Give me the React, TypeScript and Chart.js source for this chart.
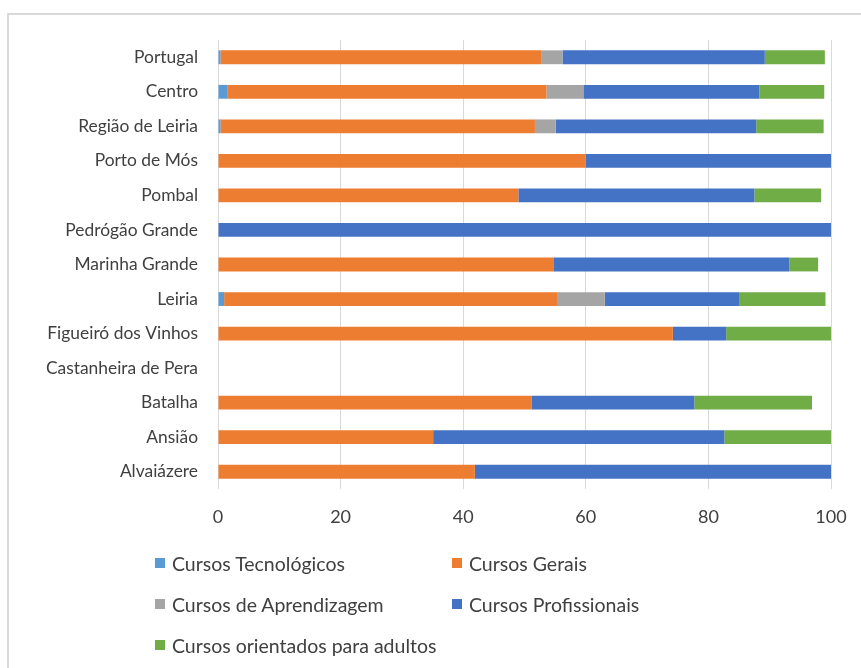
import React, { useEffect, useRef } from "react";
import { Chart, registerables } from "chart.js";

Chart.register(...registerables);

const categories = [
  "Portugal",
  "Centro",
  "Região de Leiria",
  "Porto de Mós",
  "Pombal",
  "Pedrógão Grande",
  "Marinha Grande",
  "Leiria",
  "Figueiró dos Vinhos",
  "Castanheira de Pera",
  "Batalha",
  "Ansião",
  "Alvaiázere",
];

const tecnologicos = [0.4, 1.5, 0.4, 0, 0, 0, 0, 1.0, 0, null, 0, 0, 0];
const gerais = [52.3, 52.1, 51.3, 60.0, 49.0, 0, 54.7, 54.3, 74.2, null, 51.2, 35.1, 41.9];
const aprendizagem = [3.5, 6.0, 3.4, 0, 0, 0, 0, 7.8, 0, null, 0, 0, 0];
const profissionais = [33.0, 28.7, 32.7, 40.0, 38.5, 100, 38.5, 21.9, 8.7, null, 26.5, 47.5, 58.1];
const adultos = [9.8, 10.6, 11.0, 0, 10.9, 0, 4.7, 14.1, 17.1, null, 19.2, 17.4, 0];

const seriesNames = [
  "Cursos Tecnológicos",
  "Cursos Gerais",
  "Cursos de Aprendizagem",
  "Cursos Profissionais",
  "Cursos orientados para adultos",
];
const seriesColors = ["#5B9BD5", "#ED7D31", "#A5A5A5", "#4472C4", "#70AD47"];
const xTicks = [0, 20, 40, 60, 80, 100];

const FONT = "Lato, 'Open Sans', sans-serif";
const TEXT = "#404040";

export default function App() {
  const ref = useRef<HTMLCanvasElement | null>(null);

  useEffect(() => {
    document.body.style.margin = "0";
    const canvas = ref.current;
    if (!canvas) return;
    const values = [tecnologicos, gerais, aprendizagem, profissionais, adultos];
    const chart = new Chart(canvas, {
      type: "bar",
      data: {
        labels: categories,
        datasets: values.map((v, i) => ({
          label: seriesNames[i],
          data: v as any,
          backgroundColor: seriesColors[i],
          borderWidth: 0,
          barPercentage: 0.4,
          categoryPercentage: 1,
        })),
      },
      options: {
        indexAxis: "y",
        responsive: false,
        animation: false,
        layout: { padding: { left: 0, right: 30, top: 40, bottom: 139 } },
        plugins: { legend: { display: false }, tooltip: { enabled: false } },
        scales: {
          x: {
            stacked: true,
            min: 0,
            max: 100,
            afterBuildTicks: (scale: any) => {
              scale.ticks = xTicks.map((v) => ({ value: v }));
            },
            afterFit: (scale: any) => {
              scale.height = 40;
              scale.paddingRight = 0;
              scale.paddingLeft = 0;
            },
            grid: { color: "#D9D9D9", lineWidth: 1, drawTicks: false },
            border: { display: false },
            ticks: {
              padding: 17,
              color: TEXT,
              font: { family: FONT, size: 18 },
              maxRotation: 0,
            },
          },
          y: {
            stacked: true,
            afterFit: (scale: any) => {
              scale.width = 218;
            },
            grid: { display: false, drawTicks: false },
            border: { display: false },
            ticks: {
              padding: 20,
              color: TEXT,
              font: { family: FONT, size: 17.4 },
              autoSkip: false,
            },
          },
        },
      },
    });
    return () => chart.destroy();
  }, []);

  const legendPos = [
    { x: 155, y: 563 },
    { x: 452, y: 563 },
    { x: 155, y: 604 },
    { x: 452, y: 604 },
    { x: 155, y: 645 },
  ];

  return (
    <div
      style={{
        position: "relative",
        width: 861,
        height: 668,
        overflow: "hidden",
        background: "#fff",
        fontFamily: FONT,
      }}
    >
      <div
        style={{
          position: "absolute",
          left: 7,
          top: 13,
          width: 900,
          height: 700,
          border: "2px solid #D9D9D9",
          boxSizing: "border-box",
        }}
      />
      <canvas
        ref={ref}
        width={861}
        height={668}
        style={{ position: "absolute", left: 0, top: 0, width: 861, height: 668 }}
      />
      {seriesNames.map((name, i) => (
        <div
          key={name}
          style={{
            position: "absolute",
            left: legendPos[i].x,
            top: legendPos[i].y - 12,
            height: 24,
            display: "flex",
            alignItems: "center",
            whiteSpace: "nowrap",
            color: TEXT,
            fontSize: 19.5,
          }}
        >
          <span
            style={{
              display: "inline-block",
              width: 10,
              height: 10,
              background: seriesColors[i],
              marginRight: 7,
            }}
          />
          <span>{name}</span>
        </div>
      ))}
    </div>
  );
}
